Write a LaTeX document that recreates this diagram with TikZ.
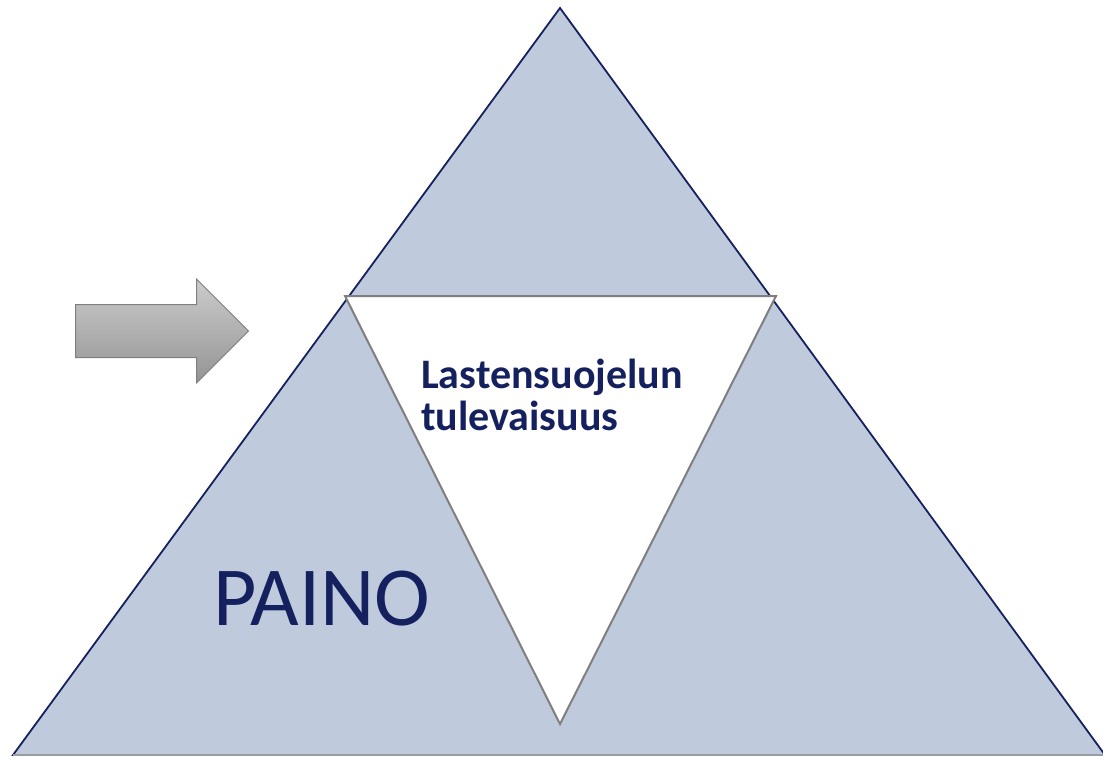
\documentclass[tikz,border=0pt]{standalone}
\usepackage{fontspec}
\setmainfont{Carlito}
\usetikzlibrary{shapes.arrows}

\definecolor{navy}{HTML}{14215E}
\definecolor{paleblue}{HTML}{BFCADD}
\definecolor{edgegray}{HTML}{7F7F7F}

\begin{document}
\begin{tikzpicture}[x=1pt,y=-1pt,
		outer/.style={draw=navy,line width=1.8pt,fill=paleblue,line join=miter},
		inner/.style={draw=edgegray,line width=2pt,fill=white,line join=miter},
		push/.style={single arrow,draw=edgegray,line width=1pt,top color=black!20,bottom color=black!42,
			minimum height=173pt,inner xsep=0pt,inner ysep=26pt,single arrow head extend=25.5pt},
		title/.style={text=navy,font=\bfseries\fontsize{42}{42}\selectfont,align=left,anchor=base west,inner sep=0pt},
		big/.style={text=navy,font=\fontsize{84}{90}\selectfont,anchor=base west,inner sep=0pt}
		]
		\useasboundingbox (0,0) rectangle (1103,756);
		
		\coordinate (top) at (560,8);
		\coordinate (bl) at (13,755);
		\coordinate (br) at (1105,755);
		\coordinate (wl) at (345,296);
		\coordinate (wr) at (776,296);
		\coordinate (wb) at (560,724);
		
		\draw[outer] (top) -- (br) -- (bl) -- cycle;
		\draw[edgegray!60!paleblue,line width=1.5pt] (bl) -- (br);
		\draw[inner] (wl) -- (wr) -- (wb) -- cycle;
		
		\node[push,anchor=west] (arrow) at (75,331) {};
		\node[title] (future) at (421,430) {Lastensuojelun\\tulevaisuus};
		\node[big] (weight) at (213,625) {PAINO};
	\end{tikzpicture}
\end{document}
